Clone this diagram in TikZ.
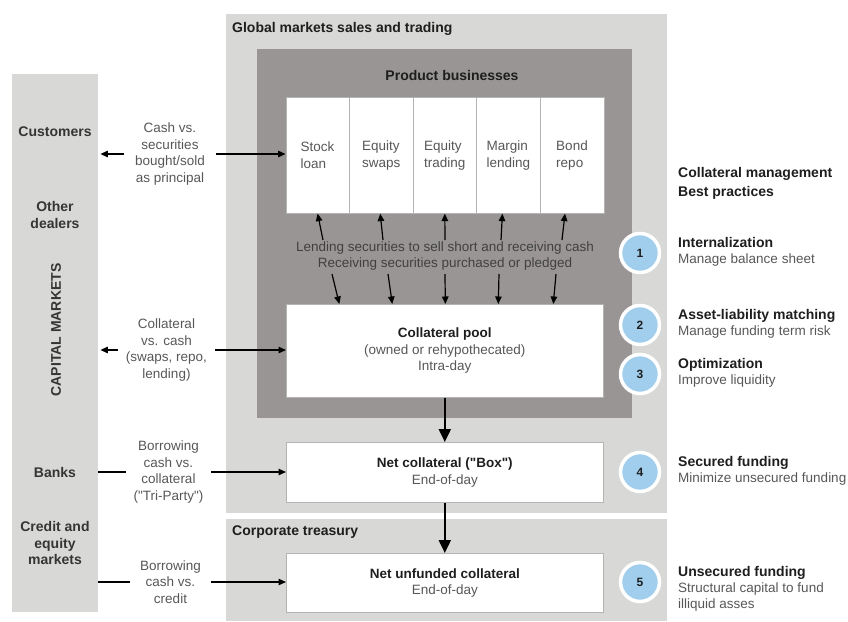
\documentclass[tikz,border=0pt]{standalone}
\usepackage{fontspec}
\setmainfont{Liberation Sans}[Ligatures=TeXOff]
\usetikzlibrary{arrows.meta,positioning,calc}
\definecolor{panel}{HTML}{D8D8D6}
\definecolor{prod}{HTML}{9A9595}
\definecolor{ink}{HTML}{1E1E1E}
\definecolor{muted}{HTML}{575757}
\definecolor{edge}{HTML}{B4B4B4}
\definecolor{dot}{HTML}{A0CEEC}

\begin{document}
\begin{tikzpicture}[x=1pt,y=-1pt,
  box/.style={draw=edge,fill=white,line width=0.6pt,inner sep=0pt,align=center,
    text=muted,font=\fontsize{13.5}{16.5}\selectfont},
  cell/.style={box,align=left,minimum width=63.6pt,minimum height=116pt},
  head/.style={font=\bfseries\fontsize{14}{17}\selectfont,text=ink,inner sep=0pt},
  side/.style={font=\bfseries\fontsize{14}{16.5}\selectfont,text=ink!90,align=center,inner sep=0pt},
  lab/.style={font=\fontsize{13.5}{16.5}\selectfont,text=muted,align=center,inner sep=0pt},
  note/.style={font=\fontsize{13.5}{16}\selectfont,text=muted,align=left,inner sep=0pt,anchor=west},
  num/.style={circle,draw=white,fill=dot,line width=3.5pt,minimum size=39pt,inner sep=0pt,
    font=\bfseries\fontsize{12}{14}\selectfont,text=ink},
  arr/.style={-{Triangle[length=7.5pt,width=6.5pt]},line width=1.2pt,black},
  flow/.style={-{Triangle[length=13pt,width=12pt]},line width=2pt,black}]
\useasboundingbox (0,0) rectangle (848,621);

% panels
\fill[panel] (226,14) rectangle (667,513);
\fill[panel] (226,519) rectangle (667,621);
\fill[prod] (257,49) rectangle (632,418);
\node[anchor=north west,minimum width=86pt,minimum height=538pt,fill=panel,inner sep=0pt] (capmk) at (12,74) {};

\node[head,anchor=west] (gm) at (232,29) {Global markets sales and trading};
\node[head] (pb) at (452,75) {Product businesses};
\node[head,anchor=west] (ct) at (232,532) {Corporate treasury};

% product desks
\foreach \t [count=\i] in {{Stock\\loan},{Equity\\swaps},{Equity\\trading},{Margin\\lending},{Bond\\repo}}
  \node[cell,anchor=north west] (c\i) at (285.5+63.6*\i-63.6,97) {\t};

\node[box,minimum width=317pt,minimum height=93pt,anchor=north west] (pool) at (286,304)
  {{\bfseries\color{ink}Collateral pool}\\(owned or rehypothecated)\\Intra-day};
\node[box,minimum width=317pt,minimum height=60pt,anchor=north west] (net) at (286,442)
  {{\bfseries\color{ink}Net collateral ("Box")}\\End-of-day};
\node[box,minimum width=317pt,minimum height=59pt,anchor=north west] (unf) at (286,553)
  {{\bfseries\color{ink}Net unfunded collateral}\\End-of-day};

\node[lab,text=ink!85] (lend) at (445,256) {Lending securities to sell short and receiving cash\\Receiving securities purchased or pledged};
\foreach \i/\a/\b in {1/323/0,2/383/-1,3/445/0,4/501/-6,5/562/-7}{
  \coordinate (lu\i) at (\a,240);
  \draw[arr] (lu\i) -- ([xshift=\b pt]c\i.south);
}
\foreach \i/\a/\b in {1/332/-105.5,2/388/-52.5,3/445/0.5,4/499/53.5,5/556/108.5}{
  \coordinate (ld\i) at (\a,274);
  \draw[arr] (ld\i) -- ([xshift=\b pt]pool.north);
}
\draw[flow] (pool.south) -- (net.north);
\draw[flow] (net.south) -- (unf.north);

% capital markets side
\node[side] (cust) at (55,132) {Customers};
\node[side] (dealers) at (55,215) {Other\\dealers};
\node[side,rotate=90] (capm) at (56,330) {CAPITAL MARKETS};
\node[side] (banks) at (55,472) {Banks};
\node[side] (credit) at (55,543) {Credit and\\equity\\markets};

\node[lab,minimum width=92pt] (cash) at (170,154) {Cash vs.\\securities\\bought/sold\\as principal};
\draw[arr] (cash.west) -- ([xshift=2pt]capmk.east |- cash.west);
\draw[arr] (cash.east) -- (c1.west |- cash.east);

\node[lab,minimum width=97pt] (coll) at (166.5,350) {Collateral\\vs. cash\\(swaps, repo,\\lending)};
\draw[arr] (coll.west) -- ([xshift=2pt]capmk.east |- coll.west);
\draw[arr] (coll.east) -- (pool.west |- coll.east);

\node[lab,minimum width=85pt] (tri) at (168.5,472) {Borrowing\\cash vs.\\collateral\\("Tri-Party")};
\draw[line width=1.2pt] (tri.west) -- (capmk.east |- tri.west);
\draw[arr] (tri.east) -- (net.west |- tri.east);

\node[lab,minimum width=81pt] (unsec) at (170.5,582) {Borrowing\\cash vs.\\credit};
\draw[line width=1.2pt] (unsec.west) -- (capmk.east |- unsec.west);
\draw[arr] (unsec.east) -- (unf.west |- unsec.east);

% best practices
\node[head,align=left,anchor=west,font=\bfseries\fontsize{14}{19}\selectfont] (bp) at (678,183.5) {Collateral management\\Best practices};
\foreach \i/\y/\t/\s in {1/253/Internalization/Manage balance sheet,
    2/325/Asset-liability matching/Manage funding term risk,
    3/374/Optimization/Improve liquidity,
    4/472/Secured funding/Minimize unsecured funding,
    5/582/Unsecured funding/{Structural capital to fund\\illiquid asses}}{
  \node[num] (n\i) at (640,\y) {\i};
  \node[note,anchor=north west] (r\i) at (678,\y-16) {{\bfseries\fontsize{14}{16}\selectfont\color{ink}\t}\\\s};
}
\end{tikzpicture}
\end{document}
